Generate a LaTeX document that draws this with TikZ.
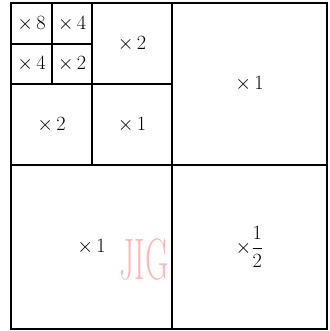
\documentclass[tikz,border=0pt]{standalone}
\usepackage{amsmath}
\tikzset{
  gridline/.style={draw=black, line width=1pt},
  fac/.style={font=\fontsize{18}{22}\selectfont, inner sep=0pt},
  wmark/.style={font=\fontsize{50}{50}\selectfont, text=red!28, inner sep=0pt, xscale=0.55},
}
\begin{document}
\begin{tikzpicture}[x=0.03cm,y=-0.03cm]
\useasboundingbox (0,0) rectangle (329,331);

%% =====================================================================
%% outer square and the two main dividers
%% =====================================================================
\draw[gridline] (11,3) rectangle (327,329);
\draw[gridline] (172,3) -- (172,329);
\draw[gridline] (11,165) -- (327,165);

%% top-left quadrant, split once more
\draw[gridline] (92,3) -- (92,165);
\draw[gridline] (11,84) -- (172,84);

%% its top-left cell, split again
\draw[gridline] (52,3) -- (52,84);
\draw[gridline] (11,44) -- (92,44);

%% =====================================================================
%% factors in the cells
%% =====================================================================
\node[fac] (f8)  at (31.5,23.5) {$\times\,8$};
\node[fac] (f4a) at (72,23.5)   {$\times\,4$};
\node[fac] (f4b) at (31.5,64)   {$\times\,4$};
\node[fac] (f2a) at (72,64)     {$\times\,2$};
\node[fac] (f2b) at (132,43.5)  {$\times\,2$};
\node[fac] (f2c) at (51.5,124.5){$\times\,2$};
\node[fac] (f1a) at (132,124.5) {$\times\,1$};
\node[fac] (f1b) at (249.5,84)  {$\times\,1$};
\node[fac] (f1c) at (91.5,247)  {$\times\,1$};
\node[fac] (fh)  at (249.5,247) {$\times\dfrac{1}{2}$};

%% faint mark
\node[wmark] (jig) at (144,259) {JIG};

\end{tikzpicture}
\end{document}
